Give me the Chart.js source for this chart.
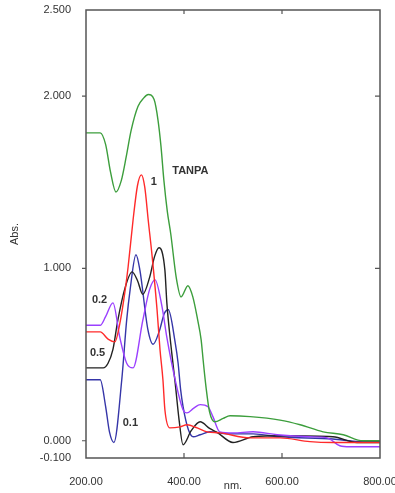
<!DOCTYPE html>
<html>
<head>
<meta charset="utf-8">
<script src="https://cdn.jsdelivr.net/npm/chart.js@4/dist/chart.umd.min.js"></script>
<style>
  html, body { margin: 0; padding: 0; background: #fff; }
  canvas { display: block; }
</style>
</head>
<body>
<canvas id="spectrum" width="395" height="493"></canvas>
<script>
// wavelength (nm) and absorbance, one pair per curve
const tanpaNm  = [200, 229, 240, 250, 261, 272, 282, 292, 306, 318, 327, 339, 347, 353, 359, 366, 373, 384, 394, 408, 418, 428, 435, 439, 445, 452, 463, 480, 494, 535, 596, 637, 684, 725, 765, 800];
const tanpaAbs = [1.787, 1.787, 1.72, 1.56, 1.444, 1.51, 1.647, 1.80, 1.94, 1.99, 2.01, 1.98, 1.86, 1.71, 1.51, 1.33, 1.20, 0.95, 0.835, 0.90, 0.835, 0.70, 0.586, 0.47, 0.31, 0.17, 0.11, 0.13, 0.145, 0.14, 0.12, 0.093, 0.052, 0.035, 0.0, 0.0];

const c1Nm  = [200, 229, 245, 259, 269, 280, 286, 296, 305, 313, 320, 327, 335, 345, 351, 357, 361, 371, 392, 406, 427, 447, 473, 535, 596, 657, 704, 800];
const c1Abs = [0.632, 0.632, 0.59, 0.574, 0.68, 0.876, 1.01, 1.28, 1.48, 1.543, 1.47, 1.28, 1.07, 0.76, 0.53, 0.354, 0.18, 0.075, 0.081, 0.093, 0.075, 0.052, 0.046, 0.017, 0.017, -0.005, -0.01, -0.01];

const c05Nm  = [200, 235, 245, 255, 265, 280, 294, 305, 316, 330, 340, 349, 361, 365, 375, 382, 390, 398, 415, 433, 453, 467, 500, 541, 602, 704, 753, 800];
const c05Abs = [0.423, 0.423, 0.45, 0.53, 0.70, 0.89, 0.98, 0.93, 0.85, 0.95, 1.07, 1.12, 0.99, 0.80, 0.51, 0.336, 0.12, -0.023, 0.06, 0.11, 0.07, 0.05, -0.01, 0.023, 0.029, 0.023, -0.01, -0.01];

const c01Nm  = [200, 229, 240, 248, 257, 273, 283, 290, 302, 310, 326, 337, 350, 360, 368, 382, 388, 393, 398, 409, 419, 433, 453, 488, 541, 596, 704, 759, 800];
const c01Abs = [0.354, 0.354, 0.20, 0.05, -0.01, 0.354, 0.70, 0.876, 1.08, 0.99, 0.65, 0.56, 0.64, 0.74, 0.76, 0.57, 0.45, 0.30, 0.20, 0.064, 0.023, 0.035, 0.052, 0.04, 0.04, 0.023, 0.01, -0.005, -0.005];

const c02Nm  = [200, 229, 240, 255, 269, 283, 296, 316, 330, 341, 355, 365, 382, 398, 406, 420, 433, 449, 459, 473, 500, 541, 590, 657, 692, 718, 739, 800];
const c02Abs = [0.67, 0.67, 0.72, 0.80, 0.60, 0.45, 0.423, 0.70, 0.88, 0.934, 0.78, 0.60, 0.354, 0.18, 0.162, 0.19, 0.21, 0.197, 0.14, 0.052, 0.046, 0.052, 0.035, 0.023, 0.017, -0.029, -0.035, -0.035];

const xTicks = [200, 400, 600, 800];
const yTicks = [-0.1, 0, 1, 2, 2.5];

// curve names written next to the curves, anchored in data units
const curveLabels = ['TANPA', '1', '0.2', '0.5', '0.1'];
const labelNm  = [376, 332, 212, 208, 275];
const labelAbs = [1.565, 1.50, 0.82, 0.51, 0.104];

const toPoints = (xs, ys) => xs.map((x, i) => ({ x: x, y: ys[i] }));

function series(xs, ys, color) {
    return {
        data: toPoints(xs, ys),
        borderColor: color,
        backgroundColor: color,
        showLine: true,
        pointRadius: 0,
        borderWidth: 1.4,
        cubicInterpolationMode: 'monotone'
    };
}

const tickFont = { family: 'Liberation Sans, Arial, sans-serif', size: 11 };
const textColor = '#333';

// frame, inward ticks and curve names
const framePlugin = {
    id: 'frame',
    afterDatasetsDraw(chart) {
        const { ctx, chartArea: a, scales } = chart;
        const sx = scales.x, sy = scales.y;
        ctx.save();
        ctx.strokeStyle = '#555';
        ctx.lineWidth = 1.5;
        ctx.strokeRect(a.left, a.top, a.right - a.left, a.bottom - a.top);

        ctx.lineWidth = 1.2;
        ctx.beginPath();
        [400, 600].forEach(v => {
            const px = sx.getPixelForValue(v);
            ctx.moveTo(px, a.bottom); ctx.lineTo(px, a.bottom - 5);
            ctx.moveTo(px, a.top); ctx.lineTo(px, a.top + 4);
        });
        [0, 1, 2].forEach(v => {
            const py = sy.getPixelForValue(v);
            ctx.moveTo(a.left - 4, py); ctx.lineTo(a.left, py);
        });
        [1, 2].forEach(v => {
            const py = sy.getPixelForValue(v);
            ctx.moveTo(a.right, py); ctx.lineTo(a.right - 5, py);
        });
        ctx.stroke();

        ctx.fillStyle = textColor;
        ctx.font = 'bold 11px "Liberation Sans", Arial, sans-serif';
        ctx.textAlign = 'left';
        ctx.textBaseline = 'middle';
        curveLabels.forEach((t, i) => {
            ctx.fillText(t, sx.getPixelForValue(labelNm[i]), sy.getPixelForValue(labelAbs[i]));
        });
        ctx.restore();
    }
};

const ctx = document.getElementById('spectrum').getContext('2d');
new Chart(ctx, {
    type: 'scatter',
    data: {
        datasets: [
            series(tanpaNm, tanpaAbs, '#3c9e3c'),
            series(c1Nm, c1Abs, '#ff2a2a'),
            series(c02Nm, c02Abs, '#9b40ff'),
            series(c05Nm, c05Abs, '#222222'),
            series(c01Nm, c01Abs, '#3535a8')
        ]
    },
    options: {
        responsive: false,
        animation: false,
        devicePixelRatio: 1,
        layout: { padding: { top: 10, right: 15, left: 0, bottom: 0 } },
        plugins: {
            legend: { display: false },
            tooltip: { enabled: false }
        },
        scales: {
            x: {
                type: 'linear',
                min: 200,
                max: 800,
                afterBuildTicks: s => { s.ticks = xTicks.map(v => ({ value: v })); },
                afterFit: s => { s.height = 35; s.paddingLeft = 0; s.paddingRight = 0; },
                grid: { display: false },
                border: { display: false },
                ticks: {
                    callback: v => v.toFixed(2),
                    maxRotation: 0,
                    padding: 9,
                    font: tickFont,
                    color: textColor
                },
                title: {
                    display: true,
                    text: 'nm.',
                    font: tickFont,
                    color: textColor,
                    padding: { top: 0, bottom: 0 }
                }
            },
            y: {
                type: 'linear',
                min: -0.1,
                max: 2.5,
                afterBuildTicks: s => { s.ticks = yTicks.map(v => ({ value: v })); },
                afterFit: s => { s.width = 86; s.paddingTop = 0; s.paddingBottom = 0; },
                grid: { display: false },
                border: { display: false },
                ticks: {
                    callback: v => v.toFixed(3),
                    padding: 7,
                    font: tickFont,
                    color: textColor
                },
                title: {
                    display: true,
                    text: 'Abs.',
                    font: tickFont,
                    color: textColor,
                    padding: { top: 8, bottom: 0 }
                }
            }
        }
    },
    plugins: [framePlugin]
});
</script>
</body>
</html>
